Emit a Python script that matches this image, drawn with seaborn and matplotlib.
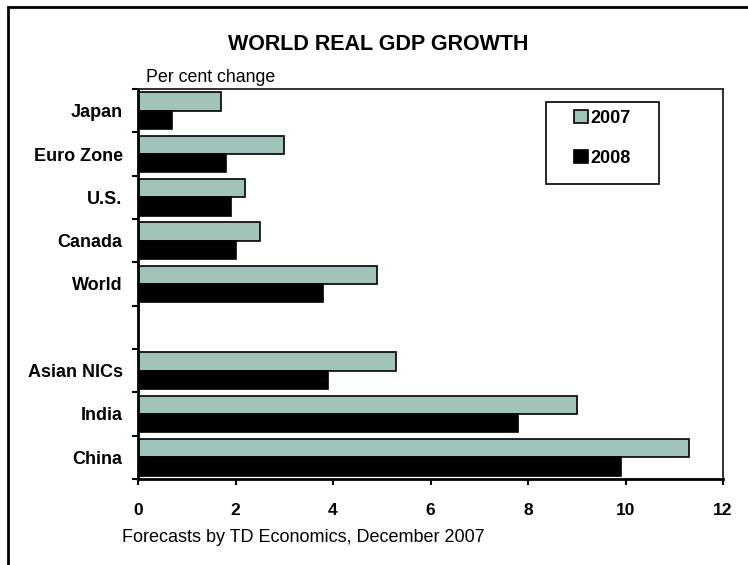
import matplotlib
matplotlib.use('Agg')
import matplotlib.pyplot as plt
import seaborn as sns
import pandas as pd
from matplotlib.patches import Rectangle

# values (per cent change)
regions = ['Japan', 'Euro Zone', 'U.S.', 'Canada', 'World', '', 'Asian NICs', 'India', 'China']
growth_2007 = [1.7, 3.0, 2.2, 2.5, 4.9, None, 5.3, 9.0, 11.3]
growth_2008 = [0.7, 1.8, 1.9, 2.0, 3.8, None, 3.9, 7.8, 9.9]
years = ['2007', '2008']
x_ticks = [0, 2, 4, 6, 8, 10, 12]

df = pd.DataFrame({'region': regions * 2,
                   'year': [years[0]] * len(regions) + [years[1]] * len(regions),
                   'growth': growth_2007 + growth_2008}).dropna()

sns.set_style('white')
plt.rcParams['font.family'] = ['Liberation Sans', 'DejaVu Sans']
plt.rcParams.update({'text.color': 'black', 'axes.labelcolor': 'black',
                     'xtick.color': 'black', 'ytick.color': 'black'})

W, H = 748, 565
fig = plt.figure(figsize=(W / 100, H / 100), dpi=100)
ax = fig.add_axes([138 / W, 1 - 479 / H, (723 - 138) / W, (479 - 89) / H])

sns.barplot(data=df, x='growth', y='region', hue='year', order=regions, hue_order=years,
            palette=['#A0C4BC', '#000000'], orient='h', width=0.84,
            edgecolor='black', linewidth=1.2, saturation=1, ax=ax)

ax.set_xlim(0, 12)
ax.set_ylim(len(regions) - 0.5, -0.5)
ax.set_xticks(x_ticks)
ax.set_xticklabels([str(t) for t in x_ticks], fontsize=12.5, fontweight='bold')
# ticks between categories, labels at the centres
ax.set_yticks([i - 0.5 for i in range(len(regions) + 1)])
ax.set_yticklabels([''] * (len(regions) + 1))
ax.set_yticks(range(len(regions)), minor=True)
ax.set_yticklabels(regions, minor=True, fontsize=13, fontweight='bold')
ax.tick_params(axis='y', which='major', direction='out', length=4, width=1.5, left=True)
ax.tick_params(axis='y', which='minor', length=0, pad=11)
ax.tick_params(axis='x', direction='out', length=4, width=1.5, bottom=True, pad=13)
ax.set_xlabel('')
ax.set_ylabel('')
ax.grid(False)

for side in ['left', 'bottom']:
    ax.spines[side].set_linewidth(2)
    ax.spines[side].set_color('black')
for side in ['top', 'right']:
    ax.spines[side].set_linewidth(1.3)
    ax.spines[side].set_color('#222222')

handles, labels = ax.get_legend_handles_labels()
ax.legend(handles, labels, loc='upper left', bbox_to_anchor=(574 / W, 1 - 110 / H),
          bbox_transform=fig.transFigure, frameon=False, prop={'weight': 'bold', 'size': 13},
          handlelength=0.75, handleheight=0.75, handletextpad=0.15, labelspacing=1.25,
          borderpad=0, borderaxespad=0)
fig.add_artist(Rectangle((546 / W, 1 - 184 / H), (659 - 546) / W, (184 - 102) / H,
                         transform=fig.transFigure, fill=False, edgecolor='black', linewidth=1.2))

fig.text(378 / W, 1 - 44 / H, 'WORLD REAL GDP GROWTH', ha='center', va='center',
         fontsize=15.5, fontweight='bold')
fig.text(146 / W, 1 - 78 / H, 'Per cent change', ha='left', va='center', fontsize=12.8)
fig.text(122 / W, 1 - 538 / H, 'Forecasts by TD Economics, December 2007', ha='left',
         va='center', fontsize=13)

# outer border of the chart area (runs off the right and bottom edges)
fig.add_artist(Rectangle((8 / W, -0.1), 1.2, 1.1 - 7 / H, transform=fig.transFigure,
                         fill=False, edgecolor='black', linewidth=2))

fig.savefig('out.png', dpi=100)
